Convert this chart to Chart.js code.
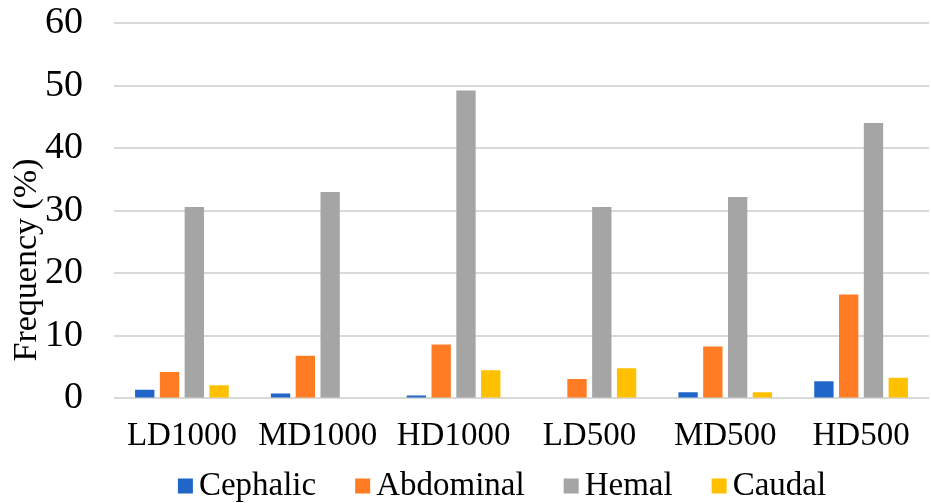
<!DOCTYPE html>
<html>
<head>
<meta charset="utf-8">
<script src="https://cdn.jsdelivr.net/npm/chart.js@4"></script>
<style>
  html, body { margin: 0; padding: 0; background: #fff; }
  #wrap { width: 931px; height: 503px; position: relative; }
</style>
</head>
<body>
<div id="wrap"><canvas id="chart-canvas"></canvas></div>
<script>
const categories = ['LD1000', 'MD1000', 'HD1000', 'LD500', 'MD500', 'HD500'];
const cephalic  = [1.4, 0.8, 0.45, 0, 1.0, 2.75];
const abdominal = [4.2, 6.8, 8.6, 3.1, 8.3, 16.6];
const hemal     = [30.6, 33.0, 49.2, 30.6, 32.2, 44.0];
const caudal    = [2.1, 0, 4.5, 4.8, 1.0, 3.3];
const yTicks = [0, 10, 20, 30, 40, 50, 60];

const serif = "'Liberation Serif', 'Times New Roman', serif";

// y title drawn by hand, it sits lower than the axis centre in the original
const yTitle = {
  id: 'yTitle',
  afterDraw(chart) {
    const ctx = chart.ctx;
    ctx.save();
    ctx.translate(27, 260);
    ctx.rotate(-Math.PI / 2);
    ctx.font = '34px ' + serif;
    ctx.fillStyle = '#000';
    ctx.textAlign = 'center';
    ctx.textBaseline = 'middle';
    ctx.fillText('Frequency (%)', 0, 0);
    ctx.restore();
  }
};

// legend row under the x labels, boxes + names from the datasets
const bottomLegend = {
  id: 'bottomLegend',
  afterDraw(chart) {
    const ctx = chart.ctx;
    const sets = chart.data.datasets;
    const box = 15, gapText = 6, gapItem = 39;
    ctx.save();
    ctx.font = '33px ' + serif;
    ctx.textBaseline = 'middle';
    let total = 0;
    sets.forEach((ds, i) => {
      total += box + gapText + ctx.measureText(ds.label).width;
      if (i < sets.length - 1) total += gapItem;
    });
    let x = 502 - total / 2;
    const y = 486;
    sets.forEach(ds => {
      ctx.fillStyle = ds.backgroundColor;
      ctx.fillRect(x, y - box / 2, box, box);
      x += box + gapText;
      ctx.fillStyle = '#000';
      ctx.fillText(ds.label, x, y);
      x += ctx.measureText(ds.label).width + gapItem;
    });
    ctx.restore();
  }
};

// tick padding would otherwise be added to the chart area margins
const noScalePad = axis => {
  axis.paddingTop = 0;
  axis.paddingBottom = 0;
  axis.paddingLeft = 0;
  axis.paddingRight = 0;
};

const chartCtx = document.getElementById('chart-canvas');

const barChart = new Chart(chartCtx, {
  type: 'bar',
  data: {
    labels: categories,
    datasets: [
      { label: 'Cephalic',  data: cephalic,  backgroundColor: '#1f66c8' },
      { label: 'Abdominal', data: abdominal, backgroundColor: '#ff7b24' },
      { label: 'Hemal',     data: hemal,     backgroundColor: '#a5a5a5' },
      { label: 'Caudal',    data: caudal,    backgroundColor: '#ffc000' }
    ]
  },
  options: {
    responsive: true,
    maintainAspectRatio: false,
    animation: false,
    categoryPercentage: 0.73,
    barPercentage: 0.78,
    layout: { padding: { left: 14, right: 2, top: 23, bottom: 37 } },
    plugins: {
      tooltip: { enabled: false },
      legend: { display: false }
    },
    scales: {
      x: {
        afterFit: noScalePad,
        grid: { display: false },
        border: { display: false },
        ticks: { font: { family: serif, size: 33 }, color: '#000', padding: 10 }
      },
      y: {
        min: 0,
        max: 60,
        afterFit: noScalePad,
        afterBuildTicks: axis => { axis.ticks = yTicks.map(v => ({ value: v })); },
        grid: { color: '#d9d9d9', lineWidth: 2, drawTicks: false },
        border: { display: false },
        ticks: { font: { family: serif, size: 38 }, color: '#000', padding: 31 }
      }
    }
  },
  plugins: [yTitle, bottomLegend]
});
</script>
</body>
</html>
